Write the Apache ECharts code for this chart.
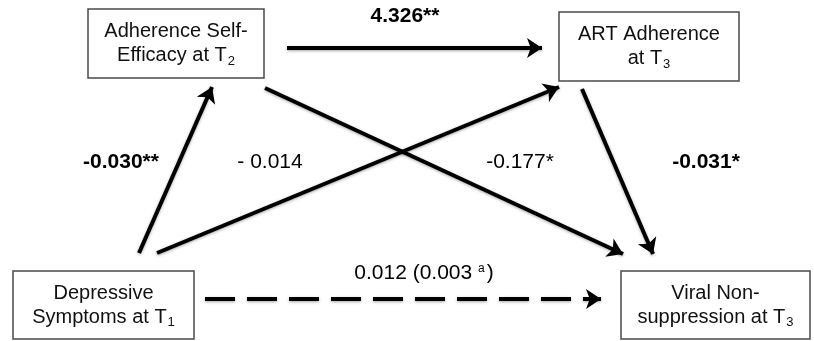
<!DOCTYPE html>
<html>
<head>
<meta charset="utf-8">
<script src="https://cdn.jsdelivr.net/npm/echarts@6/dist/echarts.min.js"></script>
<style>html,body{margin:0;padding:0;background:#fff}#c{width:814px;height:341px}</style>
</head>
<body>
<div id="c"></div>
<script>
// ---- data ----
const nodeKeys = ['ase', 'art', 'dep', 'vir'];
const nodeLabels = [
  'Adherence Self-\nEfficacy at T{sub|2}',
  'ART Adherence\nat T{sub|3}',
  'Depressive\nSymptoms at T{sub|1}',
  'Viral Non-\nsuppression at T{sub|3}'
];
const pathFrom = ['ase', 'dep', 'dep', 'ase', 'art', 'dep'];
const pathTo   = ['art', 'ase', 'art', 'vir', 'vir', 'vir'];
const pathCoefficients = ['4.326**', '-0.030**', '- 0.014', '-0.177*', '-0.031*', '0.012 (0.003 {sup|a})'];
const pathSignificant = [true, true, false, false, true, false];
const pathDirect = [false, false, false, false, false, true];

// ---- layout (pixel space of the diagram) ----
const W = 814, H = 341;
const boxRect = {
  ase: [88, 9, 264, 78],
  art: [559, 12, 739, 81],
  dep: [13, 271, 194, 339],
  vir: [621, 271, 810, 339]
};
const pathAnchors = [
  [[287, 48], [542, 48]],
  [[139, 253], [212, 87]],
  [[157, 253], [559, 87]],
  [[265, 88], [623, 254]],
  [[582, 89], [653, 254]],
  [[205, 299], [601, 299]]
];
const labelPos = [[405, 16], [121, 162], [270, 162], [520, 162], [706, 162], [424, 273]];

const FONT = '"Liberation Sans", Arial, Helvetica, sans-serif';
const chart = echarts.init(document.getElementById('c'));

const boxData = nodeKeys.map((k, i) => ({ value: boxRect[k], name: nodeLabels[i] }));

const lineData = pathFrom.map((f, i) => ({
  coords: pathAnchors[i],
  lineStyle: { type: pathDirect[i] ? [30, 12] : 'solid' }
}));

const labelData = pathCoefficients.map((t, i) => ({
  value: labelPos[i],
  label: { formatter: t, fontWeight: pathSignificant[i] ? 'bold' : 'normal' }
}));

chart.setOption({
  animation: false,
  backgroundColor: '#fff',
  grid: { left: 0, right: 0, top: 0, bottom: 0 },
  xAxis: { type: 'value', min: 0, max: W, show: false },
  yAxis: { type: 'value', min: 0, max: H, inverse: true, show: false },
  series: [
    {
      type: 'custom',
      coordinateSystem: 'cartesian2d',
      data: boxData,
      renderItem: function (params, api) {
        const p0 = api.coord([api.value(0), api.value(1)]);
        const p1 = api.coord([api.value(2), api.value(3)]);
        const name = boxData[params.dataIndex].name;
        return {
          type: 'group',
          children: [
            {
              type: 'rect',
              shape: { x: p0[0], y: p0[1], width: p1[0] - p0[0], height: p1[1] - p0[1] },
              style: { fill: '#fff', stroke: '#4a4a4a', lineWidth: 1.5 }
            },
            {
              type: 'text',
              x: (p0[0] + p1[0]) / 2,
              y: (p0[1] + p1[1]) / 2,
              style: {
                text: name,
                align: 'center',
                verticalAlign: 'middle',
                fill: '#111',
                font: '20px ' + FONT,
                lineHeight: 24,
                rich: {
                  sub: { fontSize: 13, fontFamily: FONT, fill: '#111', verticalAlign: 'bottom', lineHeight: 13, padding: [0, 0, 0, 1] }
                }
              }
            }
          ]
        };
      }
    },
    {
      type: 'lines',
      coordinateSystem: 'cartesian2d',
      polyline: false,
      symbol: ['none', 'arrow'],
      symbolSize: [13, 15],
      lineStyle: { color: '#000', width: 4, opacity: 1, shadowColor: 'rgba(0,0,0,0.35)', shadowBlur: 3, shadowOffsetY: 1 },
      data: lineData,
      z: 3
    },
    {
      type: 'scatter',
      symbolSize: 0,
      itemStyle: { opacity: 1 },
      data: labelData,
      label: {
        show: true,
        position: 'inside',
        color: '#000',
        opacity: 1,
        fontSize: 21,
        fontFamily: FONT,
        rich: {
          sup: { fontSize: 12, fontFamily: FONT, color: '#000', verticalAlign: 'top', lineHeight: 12, padding: [0, 2, 0, 0] }
        }
      },
      z: 4
    }
  ]
});
</script>
</body>
</html>
